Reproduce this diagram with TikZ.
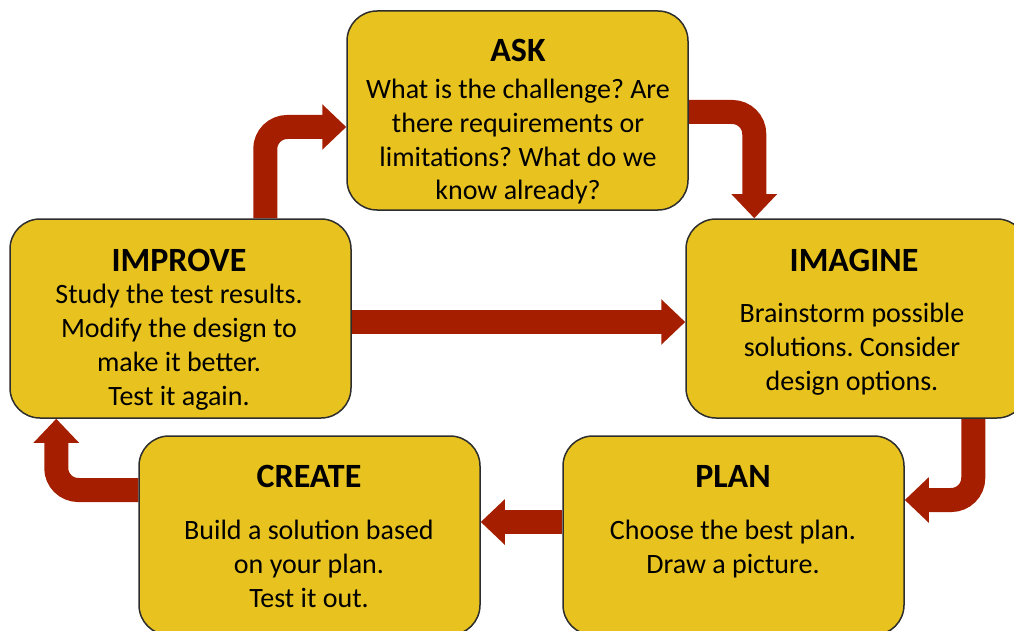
\documentclass[tikz,border=0pt]{standalone}
\usepackage{fontspec}
\setmainfont{Carlito}
\usetikzlibrary{arrows.meta,calc}
\definecolor{boxyellow}{RGB}{232,195,32}
\definecolor{arrowred}{RGB}{166,30,0}
\definecolor{boxedge}{RGB}{45,45,45}
\frenchspacing
\begin{document}
\begin{tikzpicture}[x=1pt,y=-1pt,
  stagebox/.style={draw=boxedge, line width=1.5pt, fill=boxyellow, rounded corners=30pt,
    minimum width=341pt, minimum height=199pt, inner sep=0pt},
  stagetitle/.style={font=\fontsize{34}{40}\selectfont\bfseries, inner sep=0pt},
  stagebody/.style={font=\fontsize{28}{33.8}\selectfont, align=center, inner sep=0pt, anchor=base},
  flow/.style={draw=arrowred, line width=24pt, rounded corners=22pt,
    -{Triangle[width=44pt,length=24pt]}},
]
\useasboundingbox (0,0) rectangle (1014,631);

% box centres
\coordinate (askc) at (517.5,110.5);
\coordinate (imagc) at (856.5,318.5);
\coordinate (impc) at (180.5,318.5);
\coordinate (crec) at (309.5,535.5);
\coordinate (planc) at (733.5,535.5);

\path (askc) node[stagebox, draw=none, fill=none] (ask) {};
\path (imagc) node[stagebox, draw=none, fill=none] (imagine) {};
\path (impc) node[stagebox, draw=none, fill=none] (improve) {};
\path (crec) node[stagebox, draw=none, fill=none] (create) {};
\path (planc) node[stagebox, draw=none, fill=none] (plan) {};

% arrows
\coordinate (a1s) at ($(improve.north west)+(256,0)$);
\coordinate (a1e) at ($(ask.west)+(0,16.5)$);
\draw[flow] (a1s) |- (a1e);

\coordinate (a2s) at ($(ask.east)+(0,1.5)$);
\coordinate (a2e) at ($(imagine.north west)+(69,0)$);
\draw[flow] (a2s) -| (a2e);

\coordinate (a3s) at ($(imagine.south west)+(288,0)$);
\coordinate (a3e) at ($(plan.east)+(0,-35.5)$);
\draw[flow] (a3s) |- (a3e);

\coordinate (a4s) at ($(create.west)+(0,-45.5)$);
\coordinate (a4e) at ($(improve.south west)+(47,0)$);
\draw[flow] (a4s) -| (a4e);

\coordinate (a5s) at ($(improve.east)+(0,3.5)$);
\coordinate (a5e) at ($(imagine.west)+(0,3.5)$);
\draw[flow] (a5s) -- (a5e);

\coordinate (a6s) at ($(plan.west)+(0,-13.5)$);
\coordinate (a6e) at ($(create.east)+(0,-13.5)$);
\draw[flow] (a6s) -- (a6e);

% draw boxes on top
\node[stagebox] at (askc) {};
\node[stagebox] at (imagc) {};
\node[stagebox] at (impc) {};
\node[stagebox] at (crec) {};
\node[stagebox] at (planc) {};

% texts (body nodes anchored at the baseline of their last line)
\node[stagetitle] (askt) at (518,50) {ASK};
\node[stagebody] (askb) at (518,200) {What is the challenge? Are\\there requirements or\\limitations? What do we\\know already?};

\node[stagetitle] (imagt) at (854,260) {IMAGINE};
\node[stagebody] (imagb) at (852,390) {Brainstorm possible\\solutions. Consider\\design options.};

\node[stagetitle] (impt) at (179,260) {IMPROVE};
\node[stagebody] (impb) at (179,405) {Study the test results.\\Modify the design to\\make it better.\\Test it again.};

\node[stagetitle] (cret) at (309,476) {CREATE};
\node[stagebody] (creb) at (309,607) {Build a solution based\\on your plan.\\Test it out.};

\node[stagetitle] (plant) at (733,476) {PLAN};
\node[stagebody] (planb) at (733,573) {Choose the best plan.\\Draw a picture.};
\end{tikzpicture}
\end{document}
